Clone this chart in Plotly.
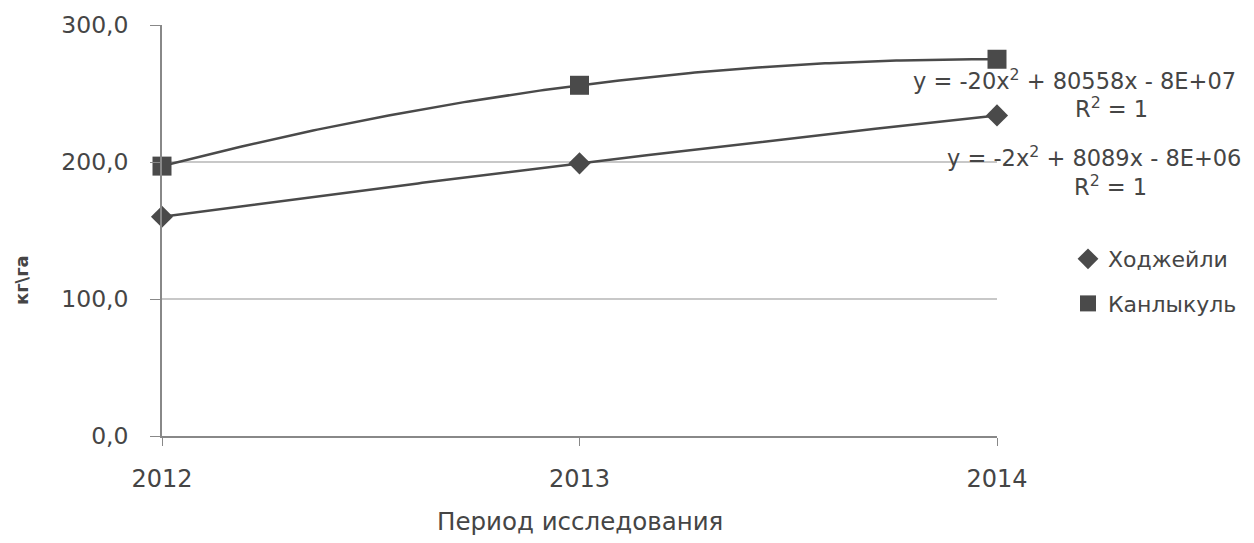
import numpy as np
import plotly.graph_objects as go

years = [2012, 2013, 2014]
khodzheyli = [160, 199, 234]
kanlykul = [197, 256, 275]
series_names = ["Ходжейли", "Канлыкуль"]
y_ticks = [0, 100, 200, 300]
y_tick_labels = ["0,0", "100,0", "200,0", "300,0"]

dark = "#4a4a4a"
text_col = "#454545"
font_family = "DejaVu Sans"

OFF = 8  # page body margin in the browser
W, H = 1254 - 2 * OFF, 543 - 2 * OFF
L, R, T, B = 162 - OFF, 997 - OFF, 25 - OFF, 436 - OFF

fig = go.Figure()

xs = np.linspace(years[0], years[-1], 200)
for vals in (khodzheyli, kanlykul):
    coef = np.polyfit(np.array(years) - years[1], vals, 2)
    ys = np.polyval(coef, xs - years[1])
    fig.add_trace(go.Scatter(x=xs, y=ys, mode="lines", line=dict(color=dark, width=2.5),
                             showlegend=False, hoverinfo="skip", cliponaxis=False))

fig.add_trace(go.Scatter(x=years, y=khodzheyli, mode="markers", name=series_names[0],
                         legendgroup="a",
                         marker=dict(symbol="diamond", size=17, color=dark), cliponaxis=False))
fig.add_trace(go.Scatter(x=years, y=kanlykul, mode="markers", name=series_names[1],
                         legendgroup="b",
                         marker=dict(symbol="square", size=19, color=dark), cliponaxis=False))


def px2paper(px, py):
    return (px - OFF - L) / (R - L), (B - (py - OFF)) / (B - T)


fig.update_layout(
    width=W, height=H,
    margin=dict(l=L, r=W - R, t=T, b=H - B, autoexpand=False),
    paper_bgcolor="white", plot_bgcolor="white",
    font=dict(family=font_family, size=22, color=text_col),
    legend=dict(xref="container", yref="container",
                x=(1068 - OFF) / W, y=1 - (238 - OFF) / H, xanchor="left", yanchor="top",
                tracegroupgap=13, font=dict(size=22, color=text_col)),
    xaxis=dict(range=[years[0], years[-1]], tickvals=years, ticktext=[str(y) for y in years],
               showgrid=False, showline=True, linecolor="#888888", linewidth=1.5,
               ticks="outside", ticklen=8, tickcolor="#888888", ticklabelstandoff=12,
               tickfont=dict(size=24, color=text_col), zeroline=False, automargin=False),
    yaxis=dict(range=[0, 300], tickvals=y_ticks, ticktext=y_tick_labels,
               showgrid=True, gridcolor="#c8c8c8", gridwidth=1.5,
               showline=True, linecolor="#888888", linewidth=1.5,
               ticks="outside", ticklen=10, tickcolor="#888888", ticklabelstandoff=17,
               tickfont=dict(size=23.5, color=text_col), zeroline=False, automargin=False),
)

# axis titles
ax, ay = px2paper(580, 521)
fig.add_annotation(text="Период исследования", xref="paper", yref="paper", x=ax, y=ay,
                   showarrow=False, xanchor="center", yanchor="middle",
                   font=dict(size=24.5, color=text_col, family=font_family))
ax, ay = px2paper(21, 280)
fig.add_annotation(text="<b>кг\\га</b>", xref="paper", yref="paper", x=ax, y=ay,
                   showarrow=False, xanchor="center", yanchor="middle", textangle=-90,
                   font=dict(size=18, color=text_col, family=font_family))

eqs = [
    ("y = -20x<sup>2</sup> + 80558x - 8E+07", 1074, 80),
    ("R<sup>2</sup> = 1", 1111, 108),
    ("y = -2x<sup>2</sup> + 8089x - 8E+06", 1094, 156),
    ("R<sup>2</sup> = 1", 1110, 185),
]
for txt, px, py in eqs:
    ex, ey = px2paper(px, py)
    fig.add_annotation(text=txt, xref="paper", yref="paper", x=ex, y=ey, showarrow=False,
                       xanchor="center", yanchor="middle",
                       font=dict(size=22.5, color=text_col, family=font_family))

fig.write_html("out.html")
